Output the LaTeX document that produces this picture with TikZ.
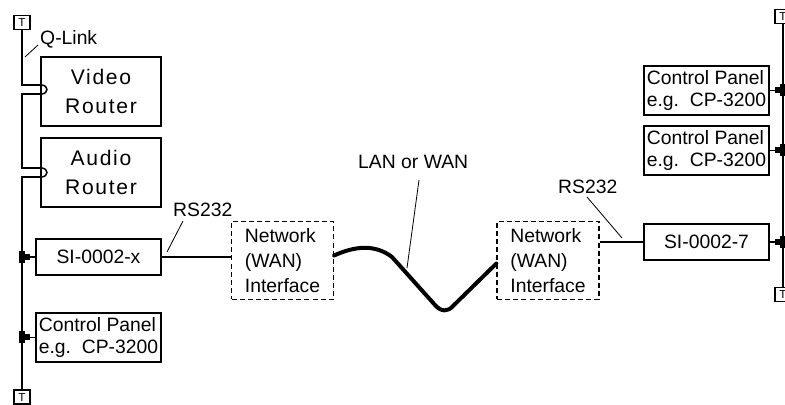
\documentclass[tikz,border=0pt]{standalone}
\usepackage{fontspec}
\setmainfont{Liberation Sans}
\newfontfamily\spacedfont[LetterSpace=8]{Liberation Sans}
\usetikzlibrary{calc}

\tikzset{
  unit/.style={draw, line width=1.3pt, inner sep=0pt, font=\fontsize{16.5}{19.6}\selectfont},
  router/.style={unit, minimum width=3.6cm, minimum height=2.07cm, align=center, font=\spacedfont\fontsize{18}{24.8}\selectfont},
  sibox/.style={unit, minimum width=3.75cm, minimum height=1.08cm},
  panel/.style={unit, minimum width=3.75cm, minimum height=1.47cm, align=left},
  netbox/.style={unit, dash pattern=on 4.3pt off 2.6pt, minimum width=3.05cm, minimum height=2.34cm, align=left, font=\fontsize{16.5}{21.3}\selectfont},
  term/.style={draw, line width=1pt, minimum width=0.48cm, minimum height=0.42cm, inner sep=0pt, font=\fontsize{10}{10}\selectfont},
  tag/.style={inner sep=0pt, anchor=base west, font=\fontsize{16.5}{19.6}\selectfont},
  bus/.style={line width=1.3pt},
  leader/.style={line width=0.7pt},
  wan/.style={line width=3.4pt, line cap=round, line join=round}
}

\begin{document}
\begin{tikzpicture}[x=0.03cm, y=-0.03cm]
  \useasboundingbox (0,0) rectangle (785,405);
  % Left side
  \node[term] (tTL) at (22,22.5) {T};
  \node[term] (tBL) at (22,397) {T};
  \node[router] (video) at (101,91.5) {Video\\Router};
  \node[router] (audio) at (101,172.5) {Audio\\Router};
  \node[sibox] (sixL) at (98.5,257) {SI-0002-x};
  \node[panel] (cpL) at (98.5,337.5) {Control Panel\\e.g.\ \ CP-3200};
  \node[tag] (qlink) at (40,45) {Q-Link};
  \node[tag] (rsL) at (173,217) {RS232};
  % Q-Link loop through the routers
  \coordinate (vIn) at (41,85);
  \coordinate (vOut) at (41,94);
  \coordinate (aIn) at (41,168);
  \coordinate (aOut) at (41,177);
  \draw[bus] (tTL.south) -- (tTL.south |- vIn) -- (vIn) .. controls (49,85) and (49,94) .. (vOut)
    -- (tTL.south |- vOut) -- (tTL.south |- aIn) -- (aIn) .. controls (49,168) and (49,177) .. (aOut)
    -- (tTL.south |- aOut) -- (tBL.north);
  \coordinate (jSIx) at (tTL.south |- sixL.west);
  \coordinate (jCPl) at (tTL.south |- cpL.west);
  \draw[bus] (jSIx) -- (sixL.west);
  \draw[bus] (jCPl) -- (cpL.west);
  \foreach \j in {jSIx,jCPl} {
    \fill (\j) ++(-3,-6) rectangle ++(6,12);
    \fill (\j) ++(3,-3) rectangle ++(5,6);
  }
  \coordinate (qTip) at (25,57);
  \draw[leader] ($(qlink.base west)+(-2,0)$) -- (qTip);
  % Network interfaces
  \node[netbox] (netL) at (282.5,260.5) {Network\\(WAN)\\Interface};
  \node[netbox] (netR) at (548,260.5) {Network\\(WAN)\\Interface};
  \draw[bus] (sixL.east) -- (netL.west |- sixL.east);
  \coordinate (rsLtip) at (167,252);
  \draw[leader] ($(rsL.base west)+(10,4)$) -- (rsLtip);
  % LAN or WAN link
  \draw[wan] ($(netL.east)+(0,-5)$) .. controls (355,246) and (375,244) .. (392,257)
    -- (435,305) .. controls (441,312) and (448,312) .. (453,306) -- ($(netR.west)+(0,3)$);
  \node[tag] (lanwan) at (358,169) {LAN or WAN};
  \coordinate (lanTip) at (407,268);
  \draw[leader] ($(lanwan.base west)+(61,11)$) -- (lanTip);
  % Right side
  \node[term] (tTR) at (783,16.5) {T};
  \node[term] (tBR) at (783,294.5) {T};
  \node[panel] (cp1) at (706.5,90.5) {Control Panel\\e.g.\ \ CP-3200};
  \node[panel] (cp2) at (706.5,150.5) {Control Panel\\e.g.\ \ CP-3200};
  \node[sibox] (sixR) at (706.5,242) {SI-0002-7};
  \node[tag] (rsR) at (558,194) {RS232};
  \draw[bus] (tTR.south) -- (tBR.north);
  \coordinate (jCP1) at (tTR.south |- cp1.east);
  \coordinate (jCP2) at (tTR.south |- cp2.east);
  \coordinate (jSI7) at (tTR.south |- sixR.east);
  \foreach \j/\b in {jCP1/cp1,jCP2/cp2,jSI7/sixR} {
    \draw[bus] (\j) -- (\b.east);
    \fill (\j) ++(-3,-6) rectangle ++(6,12);
    \fill (\j) ++(-3,-3) rectangle ++(-5,6);
  }
  \draw[bus] (netR.east |- sixR.west) -- (sixR.west);
  \coordinate (rsRtip) at (622,238);
  \draw[leader] ($(rsR.base west)+(29,3)$) -- (rsRtip);
\end{tikzpicture}
\end{document}
